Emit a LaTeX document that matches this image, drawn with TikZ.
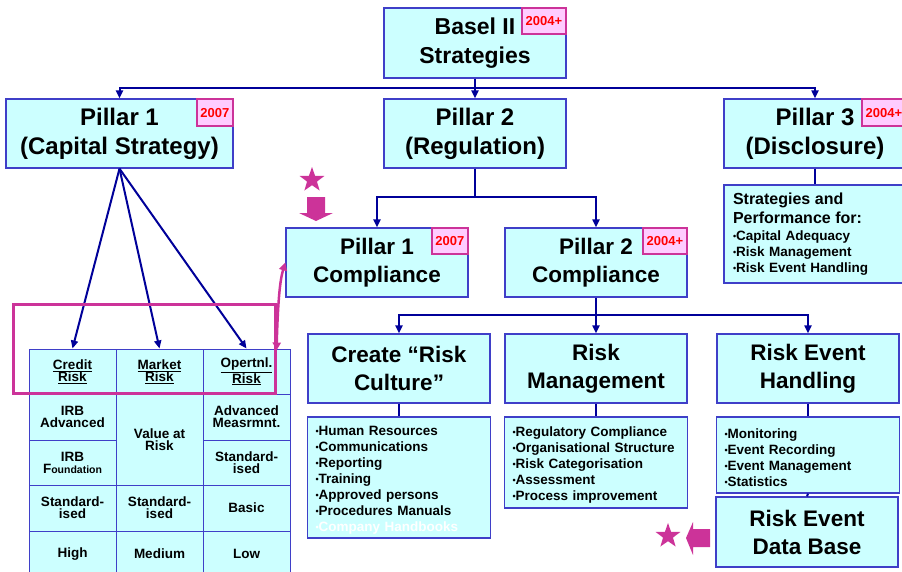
\documentclass[tikz,border=0pt]{standalone}
\usepackage{fontspec}
\setmainfont{Liberation Sans}
\usetikzlibrary{arrows.meta,shapes.geometric}
\definecolor{navy}{HTML}{000099}
\definecolor{boxline}{HTML}{3F3FC8}
\definecolor{boxfill}{HTML}{CCFFFF}
\definecolor{mag}{HTML}{CC3399}
\definecolor{badgefill}{HTML}{FFCCFF}
\definecolor{badgetext}{HTML}{FF0000}
\newcommand\fs[2]{\fontsize{#1}{#2}\selectfont\bfseries}
\newcommand\itm{{\fontsize{9}{9}\selectfont\raisebox{0.2ex}{•}}}
% taller first line, pushes a list a little down inside its box
\newcommand\firstln{\rule{0pt}{15pt}}
\begin{document}
\begin{tikzpicture}[x=1pt,y=-1pt,
  box/.style={draw=boxline, fill=boxfill, line width=1.3pt, inner sep=0pt,
    align=center, minimum width=182pt},
  headbox/.style={box, minimum height=69pt, font=\fs{24}{29}},
  subbox/.style={box, minimum height=69pt, font=\fs{22.5}{28}},
  listbox/.style={box, align=left, text width=167pt, inner xsep=8pt,
    font=\fs{13.5}{16}},
  badge/.style={draw=mag, fill=badgefill, line width=1.5pt, inner sep=0pt,
    minimum height=26pt, text=badgetext, font=\fs{13}{13}},
  cell/.style={draw=boxline, fill=boxfill, line width=1pt, inner sep=0pt,
    minimum width=87pt, align=center, font=\fs{13.5}{12}},
  conn/.style={draw=navy, line width=2pt},
  tip/.style={-{Triangle[length=8pt,width=7pt]}},
  starmark/.style={star, star points=5, star point ratio=2.5,
    minimum size=26pt, inner sep=0pt, fill=mag}
]
\useasboundingbox (0,0) rectangle (902,571);

% ---- top level ----
\node[headbox, minimum height=70pt, font=\fs{23}{29}] (basel) at (475,43) {Basel II\\Strategies};
\node[badge, minimum width=44pt, anchor=north east] (bbasel) at (basel.north east) {2004+};

\node[headbox, minimum width=227pt] (p1) at (119.5,133.5) {Pillar 1\\(Capital Strategy)};
\node[badge, minimum width=36pt, minimum height=27pt, anchor=north east] (bp1) at (p1.north east) {2007};
\node[headbox] (p2) at (475,133.5) {Pillar 2\\(Regulation)};
\node[headbox] (p3) at (815,133.5) {Pillar 3\\(Disclosure)};
\node[badge, minimum width=44pt, minimum height=27pt, anchor=north east] (bp3) at (p3.north east) {2004+};

\node[listbox, minimum height=98pt, inner xsep=9pt, text width=164pt] (strat) at (815,234)
  {\fs{16}{16}Strategies and\\[3pt]Performance for:\\[1pt]
   \fs{13.5}{16}\itm Capital Adequacy\\\itm Risk Management\\\itm Risk Event Handling};

\coordinate (bj) at (475,88);
\draw[conn,tip] (basel.south) -- (p2.north);
\draw[conn,tip] (bj) -| (p1.north);
\draw[conn,tip] (bj) -| (p3.north);
\draw[conn] (p3.south) -- (strat.north);

% ---- pillar 2 branch ----
\node[subbox] (p1c) at (377,262.5) {Pillar 1\\Compliance};
\node[badge, minimum width=36pt, anchor=north east] (bp1c) at (p1c.north east) {2007};
\node[subbox] (p2c) at (596,262.5) {Pillar 2\\Compliance};
\node[badge, minimum width=44pt, anchor=north east] (bp2c) at (p2c.north east) {2004+};

\coordinate (j2) at (475,197);
\draw[conn] (p2.south) -- (j2);
\draw[conn,tip] (j2) -| (p1c.north);
\draw[conn,tip] (j2) -| (p2c.north);

\node[subbox] (crc) at (399,368.5) {Create “Risk\\Culture”};
\node[subbox] (rm) at (596,368.5) {Risk\\Management};
\node[subbox] (reh) at (808,368.5) {Risk Event\\Handling};

\coordinate (j3) at (596,315);
\draw[conn,tip] (p2c.south) -- (rm.north);
\draw[conn,tip] (j3) -| (crc.north);
\draw[conn,tip] (j3) -| (reh.north);

\node[listbox, minimum height=121pt] (crcl) at (399,477.5)
  {\firstln\itm Human Resources\\\itm Communications\\\itm Reporting\\\itm Training\\
   \itm Approved persons\\\itm Procedures Manuals\\{\color{white}\itm Company Handbooks}};
\node[listbox, minimum height=91pt] (rml) at (596,462.5)
  {\firstln\itm Regulatory Compliance\\\itm Organisational Structure\\\itm Risk Categorisation\\
   \itm Assessment\\\itm Process improvement};
\node[listbox, minimum height=76pt] (rehl) at (808,455)
  {\firstln\itm Monitoring\\\itm Event Recording\\\itm Event Management\\\itm Statistics};
\node[subbox, minimum height=70pt] (redb) at (807,532) {Risk Event\\Data Base};

\draw[conn] (crc.south) -- (crcl.north);
\draw[conn] (rm.south) -- (rml.north);
\draw[conn] (reh.south) -- (rehl.north);
\draw[conn] (rehl.south) -- (redb.north);

% ---- pillar 1 risk table ----
\node[cell, minimum height=45pt] (credit) at (72.5,371.5) {\underline{Credit}\\\underline{Risk}};
\node[cell, minimum height=45pt] (market) at (159.5,371.5) {\underline{Market}\\\underline{Risk}};
\node[cell, minimum height=45pt] (oper) at (246.5,371.5) {\underline{Opertnl.}\\\underline{Risk}};
\node[cell, minimum height=46pt] (irba) at (72.5,417) {IRB\\Advanced};
\node[cell, minimum height=45pt] (irbf) at (72.5,462.5) {IRB\\F{\fontsize{10.5}{12}\selectfont oundation}};
\node[cell, minimum height=91pt] (var) at (159.5,439.5) {Value at\\Risk};
\node[cell, minimum height=46pt] (ama) at (246.5,417) {Advanced\\Measrmnt.};
\node[cell, minimum height=45pt] (ostd) at (246.5,462.5) {Standard-\\ised};
\node[cell, minimum height=46pt] (cstd) at (72.5,508) {Standard-\\ised};
\node[cell, minimum height=46pt] (mstd) at (159.5,508) {Standard-\\ised};
\node[cell, minimum height=46pt] (basic) at (246.5,508) {Basic};
\node[cell, minimum height=46pt] (high) at (72.5,554) {High};
\node[cell, minimum height=46pt] (medium) at (159.5,554) {Medium};
\node[cell, minimum height=46pt] (low) at (246.5,554) {Low};

\draw[conn,tip] (p1.south) -- (credit.north);
\draw[conn,tip] (p1.south) -- (market.north);
\draw[conn,tip] (p1.south) -- (oper.north);

% ---- highlight and pointers ----
\node[draw=mag, line width=3pt, minimum width=262pt, minimum height=89pt, inner sep=0pt] (focus) at (144,348.5) {};
\draw[mag, line width=2.5pt, {Triangle[length=8pt,width=8pt]}-{Triangle[length=8pt,width=8pt]}]
  ([yshift=-2pt]focus.east) .. controls (278,300) and (280,280) .. (p1c.west);

\node[starmark] (star1) at (312,180) {};
\fill[mag] (307,197) -- (325,197) -- (325,213) -- (333,213) -- (316,221)
  -- (299,213) -- (307,213) -- cycle;
\node[starmark] (star2) at (668,536) {};
\fill[mag] (710,529) -- (710,547) -- (693,547) -- (693,555) -- (686,538)
  -- (693,522) -- (693,529) -- cycle;
\end{tikzpicture}
\end{document}
